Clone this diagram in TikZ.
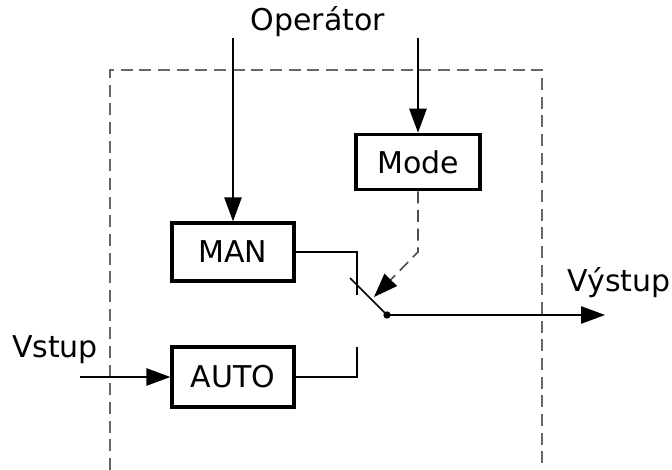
\documentclass[tikz,border=0pt]{standalone}
\usepackage{fontspec}
\setmainfont{DejaVu Sans}
\usetikzlibrary{arrows.meta}
\begin{document}
\begin{tikzpicture}[x=0.75pt,y=-0.75pt,
  block/.style={draw,line width=2.5pt,inner sep=0pt,font=\fontsize{22.5}{26}\selectfont},
  wire/.style={line width=1.2pt},
  tip/.style={-{Triangle[length=18pt,width=13pt,color=black,fill=black]}},
  arr/.style={wire,tip},
  frame/.style={draw=black!60,line width=1.1pt,dash pattern=on 9pt off 5pt},
  lbl/.style={font=\fontsize{22.5}{26}\selectfont,inner sep=0pt},
  dot/.style={circle,fill,inner sep=0pt,minimum size=5.5pt}]
\useasboundingbox (0,0) rectangle (672,470);

% enclosing controller frame (open at the bottom)
\draw[frame] (110,470) -- (110,70) -- (542,70) -- (542,470);

% blocks
\node[block,minimum width=93pt,minimum height=41.5pt] (mode) at (418,162) {Mode};
\node[block,minimum width=91.5pt,minimum height=43.5pt] (man) at (233,252) {MAN};
\node[block,minimum width=91.5pt,minimum height=45pt] (auto) at (233,377) {AUTO};

% labels
\node[lbl] (op) at (318,22) {Operátor};
\node[lbl] (vin) at (55,350) {Vstup};
\node[lbl] (vout) at (619,283) {Výstup};

% operator inputs
\coordinate (opL) at (233,38);
\coordinate (opR) at (418,38);
\draw[arr] (opL) -- (man.north);
\draw[arr] (opR) -- (mode.north);

% process input
\coordinate (inp) at (80,377);
\draw[arr] (inp) -- (auto.west);

% switch contacts
\coordinate (c1) at (357,295);
\coordinate (c2) at (357,347);
\draw[wire] (man.east) -| (c1);
\draw[wire] (auto.east) -| (c2);

% switch blade and pivot
\coordinate (bl) at (350,278);
\node[dot] (pivot) at (387,315) {};
\draw[wire] (bl) -- (pivot.center);

% mode actuation (dashed)
\coordinate (bend) at (418,252);
\coordinate (act) at (374,297);
\draw[wire,draw=black!70,dash pattern=on 9pt off 5pt,tip] (mode.south) -- (bend) -- (act);

% output
\coordinate (outp) at (605,315);
\draw[arr] (pivot.center) -- (outp);
\end{tikzpicture}
\end{document}
